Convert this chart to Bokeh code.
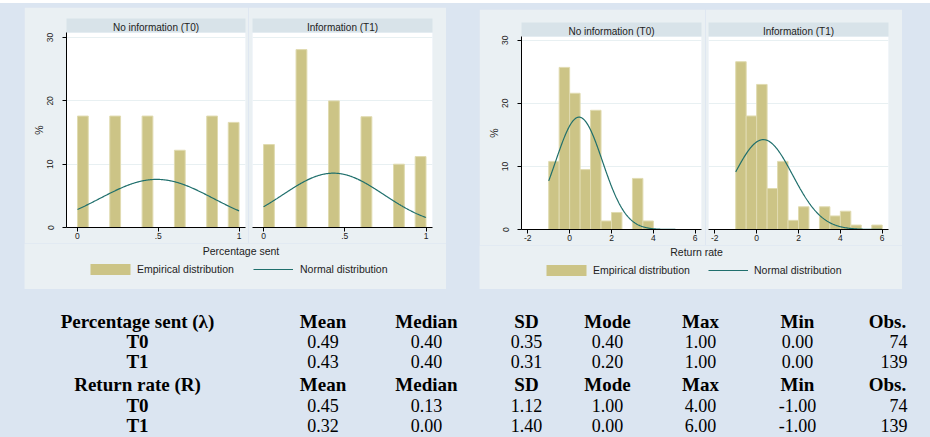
import numpy as np
from bokeh.plotting import figure
from bokeh.models import (Range1d, LinearAxis, FixedTicker, Grid, ColumnDataSource,
                          Legend, LegendItem, Spacer, CustomJSTickFormatter)
from bokeh.layouts import row, column
from bokeh.core.properties import value
from bokeh.embed import file_html
from bokeh.resources import INLINE

# ---------------- data ----------------
facet_titles = ["No information (T0)", "Information (T1)"]

# Percentage sent: 15 bins of width 1/15 on [0, 1], percent of subjects
sent_range = (0.0, 1.0)
sent_nbins = 15
sent_T0_pct = [17.6, 0, 0, 17.6, 0, 0, 17.6, 0, 0, 12.2, 0, 0, 17.6, 0, 16.6]
sent_T1_pct = [13.1, 0, 0, 28.1, 0, 0, 20.0, 0, 0, 17.5, 0, 0, 10.0, 0, 11.2]
sent_xticks = [0, 0.5, 1]

# Return rate: 14 bins of width 0.5 on [-1, 6]
ret_range = (-1.0, 6.0)
ret_nbins = 14
ret_T0_pct = [10.8, 25.7, 21.6, 9.5, 18.9, 1.35, 2.7, 0, 8.1, 1.35, 0, 0, 0, 0]
ret_T1_pct = [26.6, 18.0, 23.0, 6.5, 10.8, 1.45, 3.6, 0, 3.6, 2.15, 2.9, 0.7, 0, 0.7]
ret_xticks = [-2, 0, 2, 4, 6]

y_ticks = [0, 10, 20, 30]

# Summary table
stat_names = ["Mean", "Median", "SD", "Mode", "Max", "Min", "Obs."]
sent_T0_stats = [0.49, 0.40, 0.35, 0.40, 1.00, 0.00]
sent_T1_stats = [0.43, 0.40, 0.31, 0.20, 1.00, 0.00]
ret_T0_stats = [0.45, 0.13, 1.12, 1.00, 4.00, -1.00]
ret_T1_stats = [0.32, 0.00, 1.40, 0.00, 6.00, -1.00]
obs_counts = [74, 139]
table_labels = ["Percentage sent (\u03bb)", "T0", "T1", "Return rate (R)", "T0", "T1"]

# ---------------- style ----------------
PAGE_BG = "#dbe5f1"
PANEL = "#eaf0f3"
HEADER = "#d8e3e9"
GRID = "#e8f0f2"
BAR = "#ccc486"
BAR_EDGE = "#e0dbb0"
LINE = "#1f6f6c"
TXT = "#222222"
SANS_NAME = "Liberation Sans"
SANS = value(SANS_NAME)
SERIF = value("Liberation Serif")

tick_fmt = CustomJSTickFormatter(
    code="return (tick > 0 && tick < 1) ? String(tick).slice(1) : String(tick);")


def facet(title, rng, nbins, pct, stats, xr, yr, xticks, width, height,
          mb_left, mb_right, mb_top, mb_bottom, show_y):
    p = figure(width=width, height=height, x_range=Range1d(*xr), y_range=Range1d(*yr),
               output_backend="svg", toolbar_location=None,
               x_axis_type=None, y_axis_type=None,
               min_border_left=mb_left, min_border_right=mb_right,
               min_border_top=mb_top, min_border_bottom=mb_bottom)
    p.background_fill_color = "white"
    p.border_fill_color = PANEL
    p.outline_line_color = None
    p.add_layout(Grid(dimension=1, ticker=FixedTicker(ticks=y_ticks[1:]),
                      grid_line_color=GRID, grid_line_width=1), "center")

    edges = np.linspace(rng[0], rng[1], nbins + 1)
    pct = np.asarray(pct, dtype=float)
    keep = pct > 0
    src = ColumnDataSource(dict(left=edges[:-1][keep], right=edges[1:][keep],
                                top=pct[keep]))
    p.quad(left="left", right="right", bottom=0, top="top", source=src,
           fill_color=BAR, line_color=BAR_EDGE, line_width=1)

    # normal density with the group's mean and SD, scaled to percent per bin
    bw = (rng[1] - rng[0]) / nbins
    mu, sd = stats[0], stats[2]
    xs = np.linspace(rng[0], rng[1], 300)
    ys = 100 * bw * np.exp(-0.5 * ((xs - mu) / sd) ** 2) / (sd * np.sqrt(2 * np.pi))
    p.line(xs, ys, line_color=LINE, line_width=1.2)

    xa = LinearAxis(ticker=FixedTicker(ticks=xticks), formatter=tick_fmt)
    xa.axis_line_color = "black"
    xa.major_tick_out = 4
    xa.major_tick_in = 0
    xa.major_tick_line_color = "black"
    xa.minor_tick_line_color = None
    xa.major_label_standoff = 1
    xa.major_label_text_font = SANS_NAME
    xa.major_label_text_font_size = "8.5px"
    xa.major_label_text_color = TXT
    p.add_layout(xa, "below")

    ha = LinearAxis(ticker=FixedTicker(ticks=[]), axis_label=title)
    ha.axis_line_color = None
    ha.major_tick_line_color = None
    ha.minor_tick_line_color = None
    ha.major_tick_out = 0
    ha.major_tick_in = 0
    ha.major_label_standoff = 0
    ha.axis_label_standoff = 0
    ha.axis_label_text_font = SANS_NAME
    ha.axis_label_text_font_size = "10px"
    ha.axis_label_text_font_style = "normal"
    ha.axis_label_text_color = TXT
    ha.background_fill_color = HEADER
    p.add_layout(ha, "above")

    if show_y:
        ya = LinearAxis(ticker=FixedTicker(ticks=y_ticks), axis_label="%")
        ya.axis_line_color = "black"
        ya.major_tick_out = 4
        ya.major_tick_in = 0
        ya.minor_tick_line_color = None
        ya.major_label_orientation = "vertical"
        ya.major_label_standoff = 9
        ya.major_label_text_font = SANS_NAME
        ya.major_label_text_font_size = "8.5px"
        ya.major_label_text_color = TXT
        ya.axis_label_standoff = 0
        ya.axis_label_text_font = SANS_NAME
        ya.axis_label_text_font_size = "10.5px"
        ya.axis_label_text_font_style = "normal"
        ya.axis_label_text_color = TXT
        p.add_layout(ya, "left")
    return p


def bottom(x0, width, ytop, ybot, title, tx, ty, loc1, loc2, stand1, stand2):
    p = figure(width=width, height=ybot - ytop, x_range=Range1d(x0, x0 + width),
               y_range=Range1d(ybot, ytop), output_backend="svg", toolbar_location=None,
               x_axis_type=None, y_axis_type=None, min_border=0)
    p.background_fill_color = PANEL
    p.border_fill_color = PANEL
    p.outline_line_color = None
    p.text(x=[tx], y=[ty], text=[title], text_align="center", text_baseline="middle",
           text_font=SANS, text_font_size="10.5px", text_color=TXT)
    # legend-only renderers (NaN data: nothing drawn in the plot itself)
    r1 = p.quad(left=[np.nan], right=[np.nan], top=[np.nan], bottom=[np.nan],
                fill_color=BAR, line_color=None)
    r2 = p.line(x=[np.nan, np.nan], y=[np.nan, np.nan], line_color=LINE, line_width=1.2)
    for r, lab, loc, gw, st in [(r1, "Empirical distribution", loc1, 50, stand1),
                                (r2, "Normal distribution", loc2, 40, stand2)]:
        leg = Legend(items=[LegendItem(label=lab, renderers=[r])], location=loc,
                     orientation="horizontal", glyph_width=gw, glyph_height=14,
                     label_height=14, label_standoff=st, padding=0, margin=0,
                     spacing=0, background_fill_alpha=0, border_line_alpha=0,
                     label_text_font=SANS_NAME, label_text_font_size="10.5px",
                     label_text_color=TXT)
        p.add_layout(leg, "center")
    return p


# ---------------- left panel: percentage sent ----------------
sent_xr = (-0.068, 1.04)
sent_yr = (0, 30.8)
fA = facet(facet_titles[0], sent_range, sent_nbins, sent_T0_pct, sent_T0_stats,
           sent_xr, sent_yr, sent_xticks, 224, 236, 42, 3, 25, 16, True)
fB = facet(facet_titles[1], sent_range, sent_nbins, sent_T1_pct, sent_T1_stats,
           sent_xr, sent_yr, sent_xticks, 198, 236, 4, 14, 25, 16, False)
bL = bottom(24, 422, 243, 289, "Percentage sent", 240.5, 250.5,
            (61, 13.5), (229, 13.5), 2, 7)
left_panel = column(row(fA, fB), bL)

# ---------------- right panel: return rate ----------------
ret_xr = (-2.3, 6.3)
ret_yr = (0, 30.6)
fC = facet(facet_titles[0], ret_range, ret_nbins, ret_T0_pct, ret_T0_stats,
           ret_xr, ret_yr, ret_xticks, 226, 236, 42, 4, 27, 16, True)
fD = facet(facet_titles[1], ret_range, ret_nbins, ret_T1_pct, ret_T1_stats,
           ret_xr, ret_yr, ret_xticks, 197, 236, 3, 14, 27, 16, False)
bR = bottom(479, 423, 245, 289, "Return rate", 696, 251.5,
            (62, 12), (229, 12), 2, 6)
right_panel = column(Spacer(width=423, height=2), row(fC, fD), bR)

# ---------------- table ----------------
col_x = [322.5, 426, 526, 607, 700, 797]
obs_head_x = 887
obs_val_x = 907
label_x = 137
row_y = [321, 341, 361, 384, 405, 425]

tbl = figure(width=930, height=148, x_range=Range1d(0, 930), y_range=Range1d(437, 289),
             output_backend="svg", toolbar_location=None,
             x_axis_type=None, y_axis_type=None, min_border=0)
tbl.background_fill_color = PAGE_BG
tbl.border_fill_color = PAGE_BG
tbl.outline_line_color = None

bold_x, bold_y, bold_t = [], [], []
for lab, yy in zip(table_labels, row_y):
    bold_x.append(label_x); bold_y.append(yy); bold_t.append(lab)
for hy in (row_y[0], row_y[3]):
    for name, cx in zip(stat_names[:-1], col_x):
        bold_x.append(cx); bold_y.append(hy); bold_t.append(name)
    bold_x.append(obs_head_x); bold_y.append(hy); bold_t.append(stat_names[-1])
tbl.text(x="x", y="y", text="t", source=ColumnDataSource(dict(x=bold_x, y=bold_y, t=bold_t)),
         text_align="center", text_baseline="middle", text_font=SERIF,
         text_font_size="19px", text_font_style="bold", text_color="black")

val_x, val_y, val_t = [], [], []
for stats, yy in zip([sent_T0_stats, sent_T1_stats, ret_T0_stats, ret_T1_stats],
                     [row_y[1], row_y[2], row_y[4], row_y[5]]):
    for v, cx in zip(stats, col_x):
        val_x.append(cx); val_y.append(yy); val_t.append("%.2f" % v)
tbl.text(x="x", y="y", text="t", source=ColumnDataSource(dict(x=val_x, y=val_y, t=val_t)),
         text_align="center", text_baseline="middle", text_font=SERIF,
         text_font_size="18px", text_color="black")
obs_y = [row_y[1], row_y[2], row_y[4], row_y[5]]
obs_t = [str(o) for o in obs_counts + obs_counts]
tbl.text(x="x", y="y", text="t",
         source=ColumnDataSource(dict(x=[obs_val_x] * 4, y=obs_y, t=obs_t)),
         text_align="right", text_baseline="middle", text_font=SERIF,
         text_font_size="18px", text_color="black")

top_row = row(Spacer(width=24, height=282), left_panel, Spacer(width=33, height=282),
              right_panel, Spacer(width=28, height=282))
root = column(Spacer(width=930, height=3, styles={"background-color": "white"}),
              Spacer(width=930, height=4), top_row, tbl,
              styles={"background-color": PAGE_BG})

open("out.html", "w").write(file_html(root, INLINE))
